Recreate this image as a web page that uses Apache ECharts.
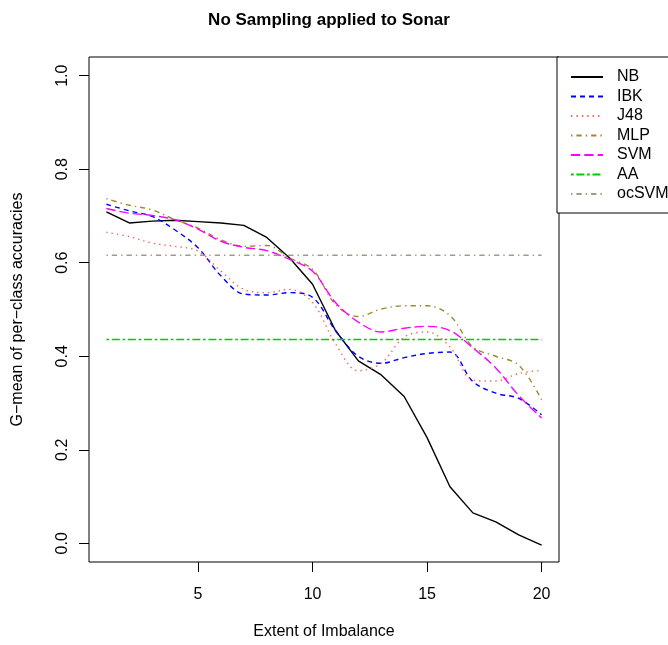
<!DOCTYPE html>
<html>
<head>
<meta charset="utf-8">
<script src="https://cdn.jsdelivr.net/npm/echarts@6/dist/echarts.min.js"></script>
<style>html,body{margin:0;padding:0;background:#fff}#c{width:668px;height:645px}</style>
</head>
<body>
<div id="c"></div>
<script>
const extent = [1,2,3,4,5,6,7,8,9,10,11,12,13,14,15,16,17,18,19,20];
const NB    = [0.709,0.685,0.689,0.691,0.688,0.685,0.680,0.654,0.610,0.554,0.455,0.390,0.360,0.314,0.226,0.121,0.065,0.046,0.018,-0.004];
const IBK   = [0.725,0.711,0.699,0.670,0.632,0.572,0.533,0.531,0.536,0.526,0.455,0.400,0.385,0.397,0.406,0.409,0.346,0.321,0.310,0.275];
const J48   = [0.665,0.656,0.642,0.635,0.625,0.582,0.543,0.536,0.543,0.515,0.427,0.369,0.385,0.441,0.452,0.420,0.349,0.347,0.363,0.370];
const MLP   = [0.737,0.723,0.713,0.692,0.674,0.649,0.635,0.637,0.610,0.586,0.511,0.485,0.501,0.508,0.508,0.487,0.420,0.400,0.381,0.307];
const SVM   = [0.716,0.706,0.701,0.692,0.672,0.646,0.633,0.626,0.607,0.582,0.515,0.473,0.452,0.460,0.464,0.455,0.418,0.375,0.316,0.268];
const AA    = 0.436;
const ocSVM = 0.616;
const xTicks = [5,10,15,20];
const yTicks = [0,0.2,0.4,0.6,0.8,1.0];

const FONT = '"Liberation Sans", Arial, Helvetica, sans-serif';
function pairs(arr){ return extent.map((x,i)=>[x, arr[i]]); }
function flat(v){ return extent.map(x=>[x, v]); }

function mk(name, data, color, type, smooth){
  return {
    name, type:'line', data, symbol:'none', showSymbol:false, smooth: smooth,
    lineStyle:{color, width:1.4, type: type},
    itemStyle:{color}, emphasis:{disabled:true}, animation:false
  };
}

const chart = echarts.init(document.getElementById('c'), null, {renderer:'canvas'});
chart.setOption({
  animation:false,
  backgroundColor:'#fff',
  title:{
    text:'No Sampling applied to Sonar', left:324, top:7, textAlign:'center',
    textStyle:{fontFamily:FONT, fontSize:17, fontWeight:'bold', color:'#000'}
  },
  grid:{left:89, top:57, width:470, height:510, show:true, borderColor:'#000', borderWidth:1, backgroundColor:'transparent'},
  xAxis:{
    type:'value', min:0.24, max:20.76,
    name:'Extent of Imbalance', nameLocation:'middle', nameGap:62,
    nameTextStyle:{fontFamily:FONT, fontSize:16, color:'#000', verticalAlign:'top'},
    axisLine:{show:false, onZero:false},
    axisTick:{show:true, length:10, lineStyle:{color:'#000'}, customValues:xTicks},
    axisLabel:{fontFamily:FONT, fontSize:16, color:'#000', margin:25, customValues:xTicks},
    splitLine:{show:false}
  },
  yAxis:{
    type:'value', min:-0.04, max:1.04,
    name:'G\u2212mean of per\u2212class accuracies', nameLocation:'middle', nameGap:63, nameRotate:90,
    nameTextStyle:{fontFamily:FONT, fontSize:16, color:'#000'},
    axisLine:{show:false, onZero:false},
    axisTick:{show:true, length:10, lineStyle:{color:'#000'}, customValues:yTicks},
    axisLabel:{fontFamily:FONT, fontSize:16, color:'#000', margin:18, rotate:90,
      customValues:yTicks, formatter:v=>v.toFixed(1)},
    splitLine:{show:false}
  },
  legend:{
    orient:'vertical', left:557, top:57, itemWidth:32, itemHeight:14, itemGap:3.5,
    padding:[12,20,11,13], borderColor:'#000', borderWidth:1, backgroundColor:'#fff',
    itemStyle:{opacity:0, borderWidth:0},
    textStyle:{fontFamily:FONT, fontSize:16, color:'#000', padding:[0,0,0,9], lineHeight:16},
    data:['NB','IBK','J48','MLP','SVM','AA','ocSVM'],
    selectedMode:false
  },
  series:[
    mk('NB', pairs(NB), '#000000', 'solid', false),
    mk('IBK', pairs(IBK), '#0000ff', [5,4], 0.35),
    mk('J48', pairs(J48), '#ff6060', [1.4,4], 0.35),
    mk('MLP', pairs(MLP), '#9c8a2b', [1.4,4,5.3,4], 0.35),
    mk('SVM', pairs(SVM), '#ff00ff', [9.3,4], 0.35),
    mk('AA', flat(AA), '#00cc00', [2.7,2.7,8,2.7], false),
    mk('ocSVM', flat(ocSVM), '#a09a86', [1.4,4,5.3,4], false)
  ]
});
</script>
</body>
</html>
